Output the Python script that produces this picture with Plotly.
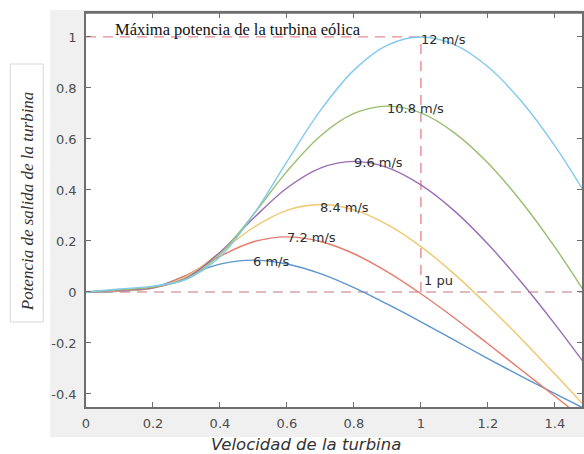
import plotly.graph_objects as go

# ---- data ----
speed = [0.0, 0.1, 0.2, 0.3, 0.4, 0.5, 0.6, 0.7, 0.8, 0.9, 1.0, 1.1, 1.2, 1.3, 1.4, 1.5]
p_6 = [0, 0.003, 0.017, 0.064, 0.109, 0.125, 0.110, 0.072, 0.017, -0.048, -0.117, -0.189, -0.261, -0.331, -0.399, -0.465]
p_72 = [0, 0.004, 0.015, 0.066, 0.140, 0.197, 0.216, 0.198, 0.150, 0.079, -0.007, -0.102, -0.203, -0.306, -0.409, -0.512]
p_84 = [0, 0.006, 0.015, 0.061, 0.155, 0.253, 0.320, 0.343, 0.322, 0.264, 0.178, 0.070, -0.053, -0.184, -0.322, -0.463]
p_96 = [0, 0.007, 0.016, 0.055, 0.156, 0.289, 0.408, 0.486, 0.512, 0.488, 0.420, 0.318, 0.188, 0.038, -0.126, -0.301]
p_108 = [0, 0.009, 0.019, 0.051, 0.148, 0.304, 0.473, 0.612, 0.700, 0.729, 0.702, 0.624, 0.506, 0.354, 0.176, -0.023]
p_12 = [0, 0.012, 0.023, 0.050, 0.138, 0.304, 0.511, 0.712, 0.870, 0.968, 1.000, 0.970, 0.883, 0.748, 0.573, 0.366]

series_names = ["6 m/s", "7.2 m/s", "8.4 m/s", "9.6 m/s", "10.8 m/s", "12 m/s"]
series_values = [p_6, p_72, p_84, p_96, p_108, p_12]
series_colors = ["#5b95cc", "#e57c6c", "#f0c76c", "#9a6db5", "#98be6c", "#82c9ee"]

label_x = [0.5, 0.6, 0.7, 0.8, 0.9, 1.0]
label_y = [0.118, 0.212, 0.333, 0.506, 0.718, 0.99]

max_line_x = [0, 1]
max_line_y = [1, 1]
pu_line_x = [1, 1]
pu_line_y = [0, 1]
zero_line_x = [0, 1.5]
zero_line_y = [0, 0]

x_ticks = [0, 0.2, 0.4, 0.6, 0.8, 1, 1.2, 1.4]
x_ticktext = ["0", "0.2", "0.4", "0.6", "0.8", "1", "1.2", "1.4"]
y_ticks = [-0.4, -0.2, 0, 0.2, 0.4, 0.6, 0.8, 1]
y_ticktext = ["-0.4", "-0.2", "0", "0.2", "0.4", "0.6", "0.8", "1"]

title_text = "Máxima potencia de la turbina eólica"
xlabel = "Velocidad de la turbina"
ylabel = "Potencia de salida de la turbina"

W, H = 584, 454
L, R, T, B = 86, 0, 13, 47
pw, ph = W - L - R, H - T - B


def px_x(p):
    return (p - L) / pw


def px_y(p):
    return (H - B - p) / ph


fig = go.Figure()

# reference dashed lines
fig.add_trace(go.Scatter(x=zero_line_x, y=zero_line_y, mode="lines",
                         line=dict(color="#d9a3aa", width=1.3, dash="10px,7px"),
                         showlegend=False, hoverinfo="skip"))
fig.add_trace(go.Scatter(x=max_line_x, y=max_line_y, mode="lines",
                         line=dict(color="#e88a94", width=1.3, dash="10px,7px"),
                         showlegend=False, hoverinfo="skip"))
fig.add_trace(go.Scatter(x=pu_line_x, y=pu_line_y, mode="lines",
                         line=dict(color="#e8808c", width=1.3, dash="10px,7px"),
                         showlegend=False, hoverinfo="skip"))

for name, vals, col in zip(series_names, series_values, series_colors):
    fig.add_trace(go.Scatter(x=speed, y=vals, mode="lines", name=name,
                             line=dict(color=col, width=1.4, shape="spline"),
                             showlegend=False))

annotations = []
for name, lx, ly in zip(series_names, label_x, label_y):
    annotations.append(dict(x=lx, y=ly, xref="x", yref="y", text=name, showarrow=False,
                            xanchor="left", yanchor="middle", xshift=-2,
                            font=dict(family="DejaVu Sans", size=13, color="#2e2e2e")))
annotations.append(dict(x=1.0, y=0.047, xref="x", yref="y", text="1 pu", showarrow=False,
                        xanchor="left", yanchor="middle", xshift=1,
                        font=dict(family="DejaVu Sans", size=13, color="#2e2e2e")))
annotations.append(dict(x=px_x(113), y=px_y(29), xref="paper", yref="paper", text=title_text,
                        showarrow=False, xanchor="left", yanchor="middle",
                        font=dict(family="Liberation Serif", size=16.5, color="#111111")))
annotations.append(dict(x=px_x(307), y=px_y(444), xref="paper", yref="paper", text=xlabel,
                        showarrow=False, xanchor="center", yanchor="middle",
                        font=dict(family="DejaVu Sans", size=16.5, color="#333333", style="italic")))
annotations.append(dict(x=px_x(27), y=px_y(201), xref="paper", yref="paper", text=ylabel,
                        showarrow=False, xanchor="center", yanchor="middle", textangle=-90,
                        font=dict(family="Liberation Serif", size=17, color="#333333", style="italic")))

shapes = [
    dict(type="rect", xref="paper", yref="paper", x0=px_x(50), x1=px_x(W + 5), y0=px_y(437), y1=px_y(10),
         fillcolor="#f0f0f0", line=dict(width=0), layer="below"),
    dict(type="rect", xref="paper", yref="paper", x0=0, x1=1, y0=0, y1=1,
         fillcolor="#ffffff", line=dict(width=0), layer="below"),
    dict(type="rect", xref="paper", yref="paper", x0=px_x(10), x1=px_x(43), y0=px_y(322), y1=px_y(64),
         fillcolor="#ffffff", line=dict(width=1, color="#d8d8d8"), layer="below"),
    dict(type="line", xref="paper", yref="paper", x0=0, x1=1, y0=1, y1=1,
         line=dict(width=1.5, color="#6e6e6e"), layer="above"),
]

axis_common = dict(showgrid=False, zeroline=False, showline=True, linecolor="#6e6e6e", linewidth=1.5,
                   ticks="inside", ticklen=5, tickwidth=1, tickcolor="#6e6e6e",
                   tickfont=dict(family="DejaVu Sans", size=13, color="#4d4d4d"))

fig.update_layout(
    width=W, height=H,
    margin=dict(l=L, r=R, t=T, b=B),
    paper_bgcolor="#ffffff", plot_bgcolor="#ffffff",
    showlegend=False,
    xaxis=dict(range=[0, 1.481], tickvals=x_ticks, ticktext=x_ticktext, ticklabelstandoff=4,
               mirror="allticks", **axis_common),
    yaxis=dict(range=[-0.451, 1.094], tickvals=y_ticks, ticktext=y_ticktext, ticklabelstandoff=5,
               mirror="ticks", **axis_common),
    annotations=annotations,
    shapes=shapes,
)

fig.write_html("out.html")
